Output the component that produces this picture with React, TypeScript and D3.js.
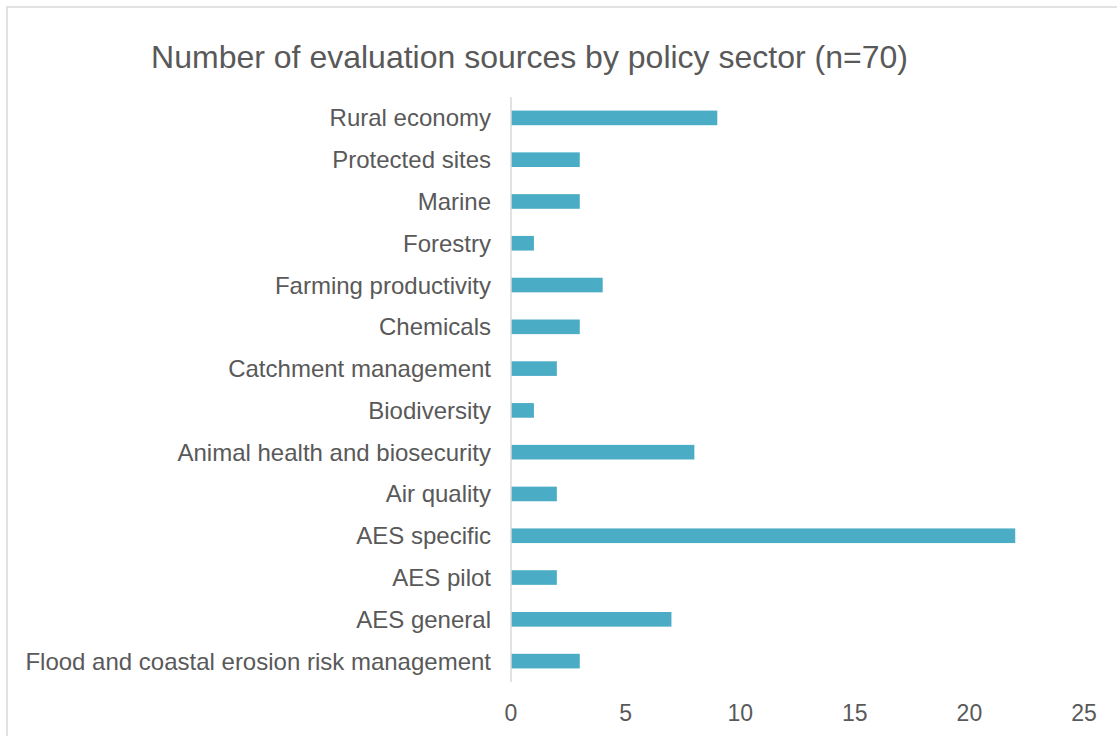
import React from "react";
import * as d3 from "d3";

const categories = [
  "Rural economy",
  "Protected sites",
  "Marine",
  "Forestry",
  "Farming productivity",
  "Chemicals",
  "Catchment management",
  "Biodiversity",
  "Animal health and biosecurity",
  "Air quality",
  "AES specific",
  "AES pilot",
  "AES general",
  "Flood and coastal erosion risk management",
];
const values = [9, 3, 3, 1, 4, 3, 2, 1, 8, 2, 22, 2, 7, 3];
const xTicks = [0, 5, 10, 15, 20, 25];
const title = "Number of evaluation sources by policy sector (n=70)";

const W = 1117;
const H = 736;
const FONT = "'Liberation Sans', Arial, sans-serif";
const TEXT = "#595959";

export default function App() {
  const x = d3.scaleLinear().domain([0, 25]).range([511, 1084]);
  const y = d3
    .scaleBand<string>()
    .domain(categories)
    .range([97, 682])
    .paddingInner(0.65)
    .paddingOuter(0.325);
  return (
    <svg
      width={W}
      height={H}
      style={{ position: "absolute", left: 0, top: 0, background: "#fff" }}
    >
      <rect x={7} y={7} width={W + 20} height={H + 20} fill="#fff" stroke="#d9d9d9" strokeWidth={1.5} />
      <text x={529.5} y={57} textAnchor="middle" dominantBaseline="central" fontFamily={FONT} fontSize={32} fill={TEXT}>
        {title}
      </text>
      {categories.map((c, i) => (
        <g key={c}>
          <rect
            x={x(0)}
            y={y(c)!}
            width={x(values[i]) - x(0)}
            height={y.bandwidth()}
            fill="#4bacc6"
          />
          <text
            x={491}
            y={y(c)! + y.bandwidth() / 2}
            textAnchor="end"
            dominantBaseline="central"
            fontFamily={FONT}
            fontSize={24}
            fill={TEXT}
          >
            {c}
          </text>
        </g>
      ))}
      <line x1={x(0)} x2={x(0)} y1={97} y2={682} stroke="#d9d9d9" strokeWidth={1.5} />
      {xTicks.map((t) => (
        <text
          key={t}
          x={x(t)}
          y={713}
          textAnchor="middle"
          dominantBaseline="central"
          fontFamily={FONT}
          fontSize={23}
          fill={TEXT}
        >
          {t}
        </text>
      ))}
    </svg>
  );
}
